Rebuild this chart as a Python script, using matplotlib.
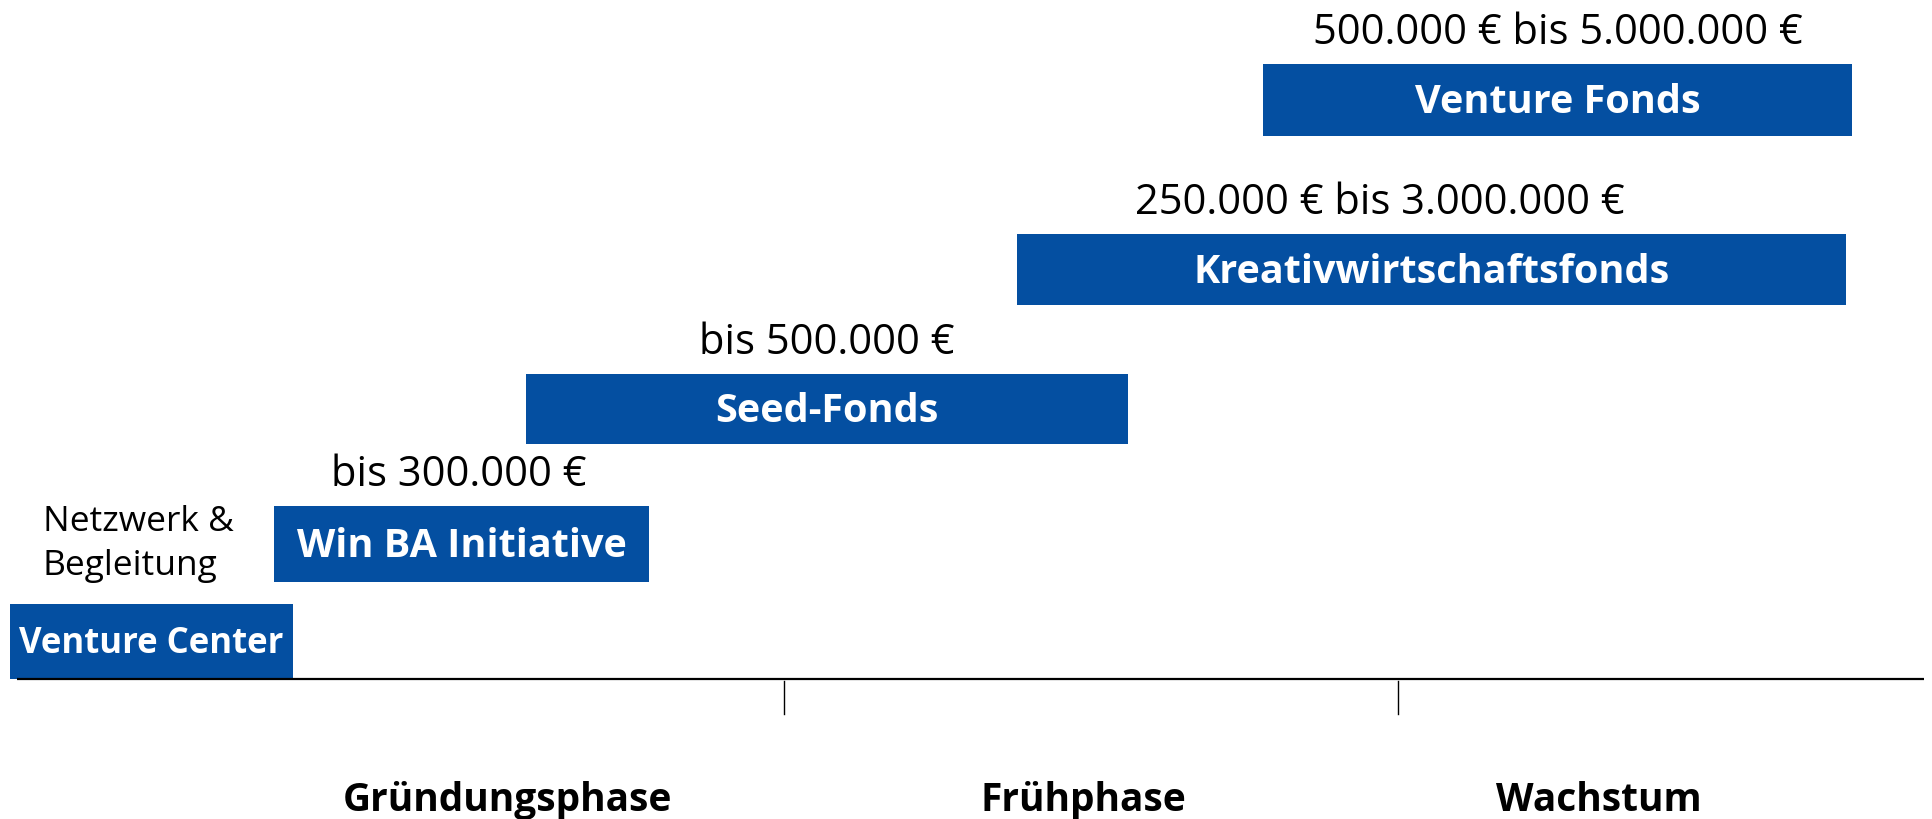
import matplotlib.pyplot as plt

plt.rcParams['font.family'] = ['Open Sans', 'DejaVu Sans']

# stage axis: 0-1 Gründungsphase, 1-2 Frühphase, 2-3 Wachstum
programs = ["Venture Center", "Win BA Initiative", "Seed-Fonds",
            "Kreativwirtschaftsfonds", "Venture Fonds"]
start = [-0.26, 0.17, 0.58, 1.38, 1.78]
end = [0.20, 0.78, 1.56, 2.73, 2.74]
bottom = [0.0, 0.97, 2.35, 3.74, 5.43]
top = [0.75, 1.73, 3.05, 4.45, 6.15]

amounts = [None, "bis 300.000 €", "bis 500.000 €",
           "250.000 € bis 3.000.000 €", "500.000 € bis 5.000.000 €"]
amount_x = [None, 0.47, 1.07, 1.97, 2.26]

phases = ["Gründungsphase", "Frühphase", "Wachstum"]
phase_x = [0.55, 1.487, 2.327]
phase_bounds = [1, 2]

blue = "#044fa1"

fig = plt.figure(figsize=(19.33, 8.2), dpi=100)
ax = fig.add_axes([0, 0, 1, 1])
ax.set_xlim(-0.2769, 2.8713)
ax.set_ylim(-1.40, 6.80)
ax.axis("off")

# bars
for i, name in enumerate(programs):
    ax.barh((bottom[i] + top[i]) / 2, end[i] - start[i], height=top[i] - bottom[i],
            left=start[i], color=blue, edgecolor="none")
    size = 25 if i == 0 else 28.5
    ax.text((start[i] + end[i]) / 2, (bottom[i] + top[i]) / 2 - 0.02, name,
            color="white", fontsize=size, fontweight="bold",
            ha="center", va="center")
    if amounts[i]:
        ax.text(amount_x[i], top[i] + 0.32, amounts[i], color="black",
                fontsize=30, ha="center", va="center")

ax.text(-0.207, 1.36, "Netzwerk &\nBegleitung", fontsize=25.5,
        ha="left", va="center", linespacing=1.35)

# time axis
ax.plot([-0.249, 2.857], [0, 0], color="black", lw=1.6, solid_capstyle="butt")
for b in phase_bounds:
    ax.plot([b, b], [-0.02, -0.35], color="black", lw=1.0)
for name, x in zip(phases, phase_x):
    ax.text(x, -1.21, name, fontsize=28, fontweight="bold",
            ha="center", va="center")

fig.savefig("out.png", dpi=100)
